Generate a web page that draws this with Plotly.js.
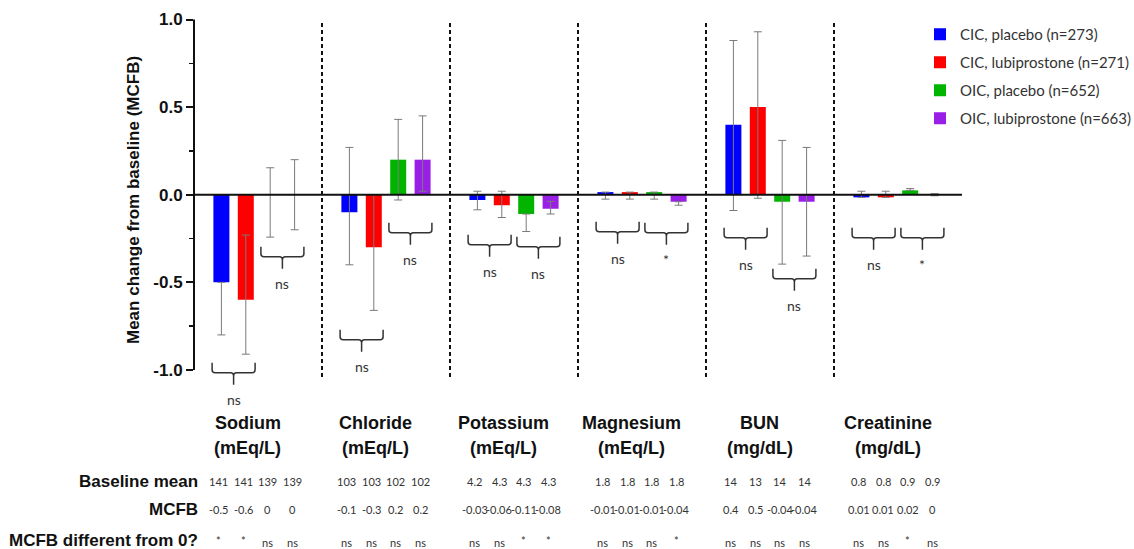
<!DOCTYPE html>
<html>
<head>
<meta charset="utf-8">
<script src="https://cdn.plot.ly/plotly-3.0.1.min.js"></script>
<style>html,body{margin:0;padding:0;background:#fff;}#chart{width:1134px;height:549px;}</style>
</head>
<body>
<div id="chart"></div>
<script>
// ---------- DATA ----------
const categories = ['Sodium', 'Chloride', 'Potassium', 'Magnesium', 'BUN', 'Creatinine'];
const units = ['(mEq/L)', '(mEq/L)', '(mEq/L)', '(mEq/L)', '(mg/dL)', '(mg/dL)'];
const seriesNames = ['CIC, placebo (n=273)', 'CIC, lubiprostone (n=271)', 'OIC, placebo (n=652)', 'OIC, lubiprostone (n=663)'];

// bar heights
const cicPlacebo = [-0.5, -0.1, -0.03, 0.015, 0.4, -0.015];
const cicLubi    = [-0.6, -0.3, -0.06, 0.015, 0.5, -0.015];
const oicPlacebo = [0, 0.2, -0.11, 0.015, -0.04, 0.025];
const oicLubi    = [0, 0.2, -0.08, -0.04, -0.04, 0];

// error bar extents (up / down)
const cicPlaceboUp   = [0, 0.37, 0.05, 0, 0.48, 0.035];
const cicPlaceboDown = [0.3, 0.3, 0.056, 0.04, 0.49, 0];
const cicLubiUp      = [0.37, 0.3, 0.08, 0, 0.43, 0.035];
const cicLubiDown    = [0.31, 0.36, 0.07, 0.04, 0.52, 0];
const oicPlaceboUp   = [0.154, 0.23, 0, 0, 0.35, 0.01];
const oicPlaceboDown = [0.242, 0.23, 0.1, 0.04, 0.356, 0];
const oicLubiUp      = [0.2, 0.25, 0.042, 0, 0.31, 0.006];
const oicLubiDown    = [0.2, 0.18, 0.03, 0.02, 0.31, 0.006];

// table rows
const rowLabels = ['Baseline mean', 'MCFB', 'MCFB different from 0?'];
const baseCicPlacebo = ['141', '103', '4.2', '1.8', '14', '0.8'];
const baseCicLubi    = ['141', '103', '4.3', '1.8', '13', '0.8'];
const baseOicPlacebo = ['139', '102', '4.3', '1.8', '14', '0.9'];
const baseOicLubi    = ['139', '102', '4.3', '1.8', '14', '0.9'];
const mcfbCicPlacebo = ['-0.5', '-0.1', '-0.03', '-0.01', '0.4', '0.01'];
const mcfbCicLubi    = ['-0.6', '-0.3', '-0.06', '-0.01', '0.5', '0.01'];
const mcfbOicPlacebo = ['0', '0.2', '-0.11', '-0.01', '-0.04', '0.02'];
const mcfbOicLubi    = ['0', '0.2', '-0.08', '-0.04', '-0.04', '0'];
const sigCicPlacebo  = ['*', 'ns', 'ns', 'ns', 'ns', 'ns'];
const sigCicLubi     = ['*', 'ns', 'ns', 'ns', 'ns', 'ns'];
const sigOicPlacebo  = ['ns', 'ns', '*', 'ns', 'ns', '*'];
const sigOicLubi     = ['ns', 'ns', '*', '*', 'ns', 'ns'];

// between-group comparison labels (CIC pair, OIC pair)
const cicCompare = ['ns', 'ns', 'ns', 'ns', 'ns', 'ns'];
const oicCompare = ['ns', 'ns', 'ns', '*', 'ns', '*'];

// ---------- LAYOUT HELPERS ----------
const colors = ['#0000ff', '#ff0000', '#00b400', '#9a1fe6'];
const xIdx = categories.map((c, i) => i);
const seriesVals = [cicPlacebo, cicLubi, oicPlacebo, oicLubi];
const seriesUp = [cicPlaceboUp, cicLubiUp, oicPlaceboUp, oicLubiUp];
const seriesDown = [cicPlaceboDown, cicLubiDown, oicPlaceboDown, oicLubiDown];

const traces = seriesNames.map((name, s) => ({
  type: 'bar',
  name: name,
  legendgroup: 'g' + s,
  x: xIdx,
  y: seriesVals[s],
  marker: {color: colors[s], line: {width: 0}},
  error_y: {type: 'data', symmetric: false, array: seriesUp[s], arrayminus: seriesDown[s],
            color: '#7a7a7a', thickness: 1, width: 4},
  hoverinfo: 'skip'
}));

const BARGAP = 0.2375;
const slot = (1 - BARGAP) / 4;
const offsets = [-1.5 * slot, -0.5 * slot, 0.5 * slot, 1.5 * slot];

// paper y from pixel row (plot area top 16, bottom 405)
const PT = 16, PB = 405;
const py = px => (PB - px) / (PB - PT);

const annotations = [];
const valFont = {family: 'Lato, "Open Sans", sans-serif', size: 11, color: '#333'};
const boldFont = (sz) => ({family: '"Liberation Sans", Arial, sans-serif', size: sz, color: '#111', weight: 'bold'});

// y-axis title
annotations.push({xref: 'paper', yref: 'paper', x: (133 - 194) / 768, y: py(200),
  text: '<b>Mean change from baseline (MCFB)</b>', textangle: -90, showarrow: false,
  xanchor: 'center', yanchor: 'middle', font: boldFont(17)});

// category names
categories.forEach((c, i) => {
  annotations.push({xref: 'x', yref: 'paper', x: i - 0.08, y: py(423), text: '<b>' + c + '</b>',
    showarrow: false, xanchor: 'center', yanchor: 'middle', font: boldFont(18)});
  annotations.push({xref: 'x', yref: 'paper', x: i - 0.08, y: py(448), text: '<b>' + units[i] + '</b>',
    showarrow: false, xanchor: 'center', yanchor: 'middle', font: boldFont(18)});
});

// table
const rowPx = [481, 510, 540];
rowLabels.forEach((r, k) => {
  annotations.push({xref: 'paper', yref: 'paper', x: (200 - 194) / 768, y: py(rowPx[k]), text: '<b>' + r + '</b>',
    showarrow: false, xanchor: 'right', yanchor: 'middle', font: boldFont(17)});
});
const rows = [
  [baseCicPlacebo, baseCicLubi, baseOicPlacebo, baseOicLubi],
  [mcfbCicPlacebo, mcfbCicLubi, mcfbOicPlacebo, mcfbOicLubi],
  [sigCicPlacebo, sigCicLubi, sigOicPlacebo, sigOicLubi]
];
rows.forEach((row, k) => {
  row.forEach((ser, s) => {
    ser.forEach((t, i) => {
      annotations.push({xref: 'x', yref: 'paper', x: i + offsets[s] - 0.02,
        y: py(rowPx[k] + (t === 'ns' ? 2 : 0)), text: t, showarrow: false,
        xanchor: 'center', yanchor: 'middle', font: valFont});
    });
  });
});

// braces with comparison labels
const braceTopPx = [[363, 247], [330, 223], [235, 237], [222, 223], [228, 269], [228, 228]];
const shapes = [];
const UNIT = 175.2; // px per y unit
const hw = 21.5 / 128, rx = 3 / 128;
function bracePath(cx, yt) {
  const h = 22 / UNIT, ym = yt - 10 / UNIT, ry = 3 / UNIT, yb = yt - h;
  const side = (xe, dir) => `M${xe},${yt} L${xe},${ym + ry} Q${xe},${ym} ${xe + dir * rx},${ym} L${cx - dir * rx},${ym} Q${cx},${ym} ${cx},${ym - ry} `;
  return side(cx - hw, 1) + side(cx + hw, -1) + `M${cx},${ym - ry} L${cx},${yb}`;
}
const yFromPx = px => (195 - px) / UNIT;
categories.forEach((c, i) => {
  [cicCompare[i], oicCompare[i]].forEach((lab, p) => {
    const cx = i + (p === 0 ? -slot : slot);
    const yt = yFromPx(braceTopPx[i][p]);
    shapes.push({type: 'path', xref: 'x', yref: 'y', path: bracePath(cx, yt),
      line: {color: '#333', width: 1.5}});
    annotations.push({xref: 'x', yref: 'y', x: cx, y: yFromPx(braceTopPx[i][p] + 22 + 15),
      text: lab, showarrow: false, xanchor: 'center', yanchor: 'middle',
      font: {family: 'Lato, "Open Sans", sans-serif', size: 14, color: '#333'}});
  });
});

// dashed group dividers
for (let k = 0; k < categories.length - 1; k++) {
  shapes.push({type: 'line', xref: 'x', yref: 'y', x0: k + 0.5, x1: k + 0.5, y0: -1.04, y1: 0.99,
    line: {color: '#111', width: 2, dash: '4px,3px'}});
}
// y axis line and zero line
shapes.push({type: 'line', xref: 'paper', yref: 'y', x0: 0, x1: 0, y0: -1, y1: 1, line: {color: '#111', width: 2}});
shapes.push({type: 'line', xref: 'paper', yref: 'y', x0: 0, x1: 1, y0: 0, y1: 0, line: {color: '#111', width: 2}});

const layout = {
  width: 1134, height: 549,
  margin: {l: 194, r: 172, t: PT, b: 549 - PB, pad: 0, autoexpand: false},
  paper_bgcolor: '#fff', plot_bgcolor: '#fff',
  barmode: 'group', bargap: BARGAP, bargroupgap: 0.344,
  showlegend: true,
  legend: {x: (920 - 194) / 768, y: py(18), xanchor: 'left', yanchor: 'top',
    font: {family: 'Lato, "Open Sans", sans-serif', size: 15, color: '#333'},
    tracegroupgap: 5.5, itemwidth: 30, bgcolor: 'rgba(0,0,0,0)', traceorder: 'grouped'},
  xaxis: {range: [-0.5, 5.5], showgrid: false, zeroline: false, showticklabels: false,
    ticks: '', showline: false, fixedrange: true},
  yaxis: {range: [-1.2, 1.02], tickmode: 'array', tickvals: [-1, -0.5, 0, 0.5, 1],
    ticktext: ['-1.0', '-0.5', '0.0', '0.5', '1.0'],
    ticks: 'outside', ticklen: 7, tickwidth: 2, tickcolor: '#111',
    tickfont: boldFont(17), showgrid: false, zeroline: false, showline: false, fixedrange: true,
    minor: {tickmode: 'array', tickvals: [-0.75, -0.25, 0.25, 0.75], ticks: 'outside', ticklen: 4, tickwidth: 1.5, tickcolor: '#111', showgrid: false}},
  annotations: annotations,
  shapes: shapes
};

Plotly.newPlot('chart', traces, layout, {displayModeBar: false, staticPlot: true});
</script>
</body>
</html>
